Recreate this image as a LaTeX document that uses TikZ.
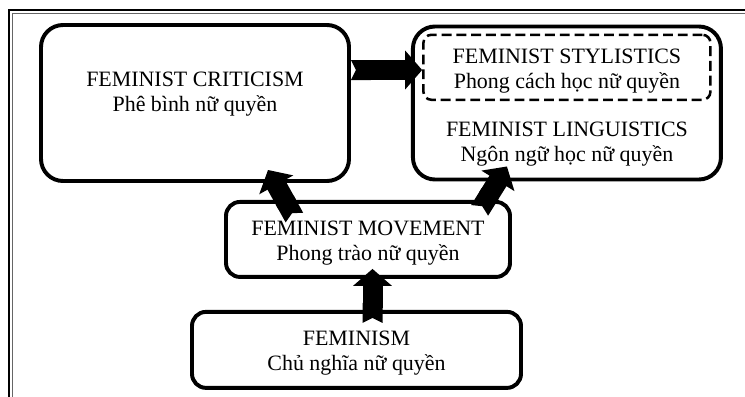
\documentclass[tikz,border=0pt]{standalone}
\usepackage{fontspec}
\setmainfont{Liberation Serif}
\usetikzlibrary{arrows.meta,positioning}
\newcommand\boxfont{\fontsize{15.6pt}{17.8pt}\selectfont}

\begin{document}
\begin{tikzpicture}[
  bigbox/.style={rectangle,rounded corners=5.5mm,draw=black,fill=white,line width=2.8pt,minimum width=7.7cm},
  smallbox/.style={rectangle,rounded corners=3.5mm,draw=black,fill=white,line width=2.8pt},
  dashbox/.style={rectangle,rounded corners=2mm,draw=black,dash pattern=on 7pt off 3.5pt,line width=1.8pt,minimum width=7.175cm,minimum height=1.625cm},
  boxtext/.style={align=center,font=\boxfont},
  fatarrow/.style={line width=0.5cm,{Triangle Cap[reversed,length=3.5pt]}-{Triangle[width=0.95cm,length=0.425cm]}}
]
\useasboundingbox (0,0) rectangle (18.625,-9.9);
\clip (0,0) rectangle (18.625,-9.9);
% page frame
\draw[line width=1.4pt] (0.225,-0.25) rectangle (20,-11);
\draw[line width=0.8pt,draw=black!60] (0.3125,-0.3375) rectangle (20,-11);

\node[bigbox,minimum height=3.9cm] (crit) at (4.875,-2.575) {};
\node[boxtext] (critT) at ([yshift=0.225cm]crit.center) {FEMINIST CRITICISM\\Phê bình nữ quyền};
\node[bigbox,minimum height=3.825cm,right=1.5cm of crit] (ling) {};
\node[dashbox,below=0.225cm of ling.north] (styl) {};
\node[boxtext] (stylT) at ([yshift=-0.1cm]styl.center) {FEMINIST STYLISTICS\\Phong cách học nữ quyền};
\node[boxtext] (lingT) at ([yshift=-1.93cm]styl.center) {FEMINIST LINGUISTICS\\Ngôn ngữ học nữ quyền};
\node[smallbox,minimum width=7.1cm,minimum height=1.875cm,below=0.425cm of crit,xshift=4.325cm] (mov) {};
\node[boxtext] (movT) at ([yshift=-0.1cm]mov.center) {FEMINIST MOVEMENT\\Phong trào nữ quyền};
\node[smallbox,minimum width=8.225cm,minimum height=1.9cm,below=0.775cm of mov,xshift=-0.2875cm] (fem) {};
\node[boxtext] (femT) at ([yshift=-0.075cm]fem.center) {FEMINISM\\Chủ nghĩa nữ quyền};

\draw[fatarrow] ([yshift=0.825cm]crit.east) -- ([yshift=0.825cm]crit.east -| styl.west);
\draw[fatarrow] ([xshift=-1.84cm,yshift=-0.44cm]mov.north) -- ([xshift=1.825cm,yshift=0.325cm]crit.south);
\draw[fatarrow] ([xshift=2.79cm,yshift=-0.26cm]mov.north) -- ([xshift=-1.5cm,yshift=0.375cm]ling.south);
\draw[fatarrow] ([xshift=0.4cm,yshift=-0.325cm]fem.north) -- ([xshift=0.4cm,yshift=0.25cm]fem.north |- mov.south);
\end{tikzpicture}
\end{document}
